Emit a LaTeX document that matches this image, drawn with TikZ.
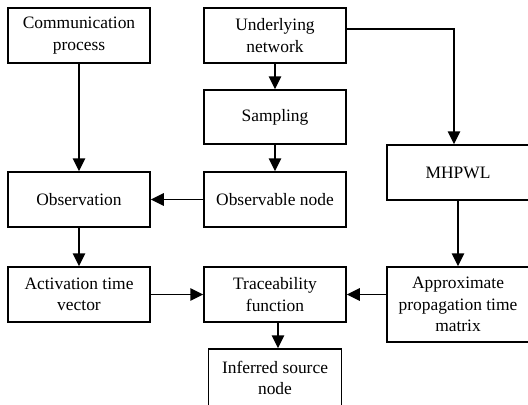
\documentclass[tikz,border=0pt]{standalone}
\usepackage{fontspec}
\setmainfont{Liberation Serif}
\usetikzlibrary{arrows.meta}
\tikzset{
  box/.style={draw, line width=1.5bp, align=center, inner sep=0pt, minimum width=142bp, minimum height=55bp, font=\fontsize{17.5}{21.5}\selectfont},
  arr/.style={line width=1.5bp, -{Triangle[length=13bp,width=12.5bp]}}
}
\begin{document}
\begin{tikzpicture}[x=1bp,y=-1bp]
\useasboundingbox (0,0) rectangle (528,404);
\node[box] (comm) at (79,35.5) {Communication\\process};
\node[box] (under) at (275,35.5) {Underlying\\network};
\node[box, minimum height=54bp] (samp) at (275,117) {Sampling};
\node[box] (obsv) at (79,199.5) {Observation};
\node[box] (obsn) at (275,199.5) {Observable node};
\node[box] (mhp) at (458,172.5) {MHPWL};
\node[box] (act) at (79,294.5) {Activation time\\vector};
\node[box] (trace) at (275,294.5) {Traceability\\function};
\node[box, minimum height=75bp] (approx) at (458,304.5) {Approximate\\propagation time\\matrix};
\node[box, minimum width=133bp, minimum height=58bp] (inf) at (275,378) {Inferred source\\node};

\draw[arr] (comm) -- (obsv);
\draw[arr] (obsv) -- (act);
\draw[arr] (under) -- (samp);
\draw[arr] (samp) -- (obsn);
\draw[arr] (obsn) -- (obsv);
\draw[arr] (under.east |- 0,29) -| ([xshift=-4bp]mhp.north);
\draw[arr] (mhp) -- (approx);
\draw[arr] (act) -- (trace);
\draw[arr] (approx.west |- trace.east) -- (trace.east);
\draw[arr] (trace.south -| 278,0) -- (inf.north -| 278,0);
\end{tikzpicture}
\end{document}
